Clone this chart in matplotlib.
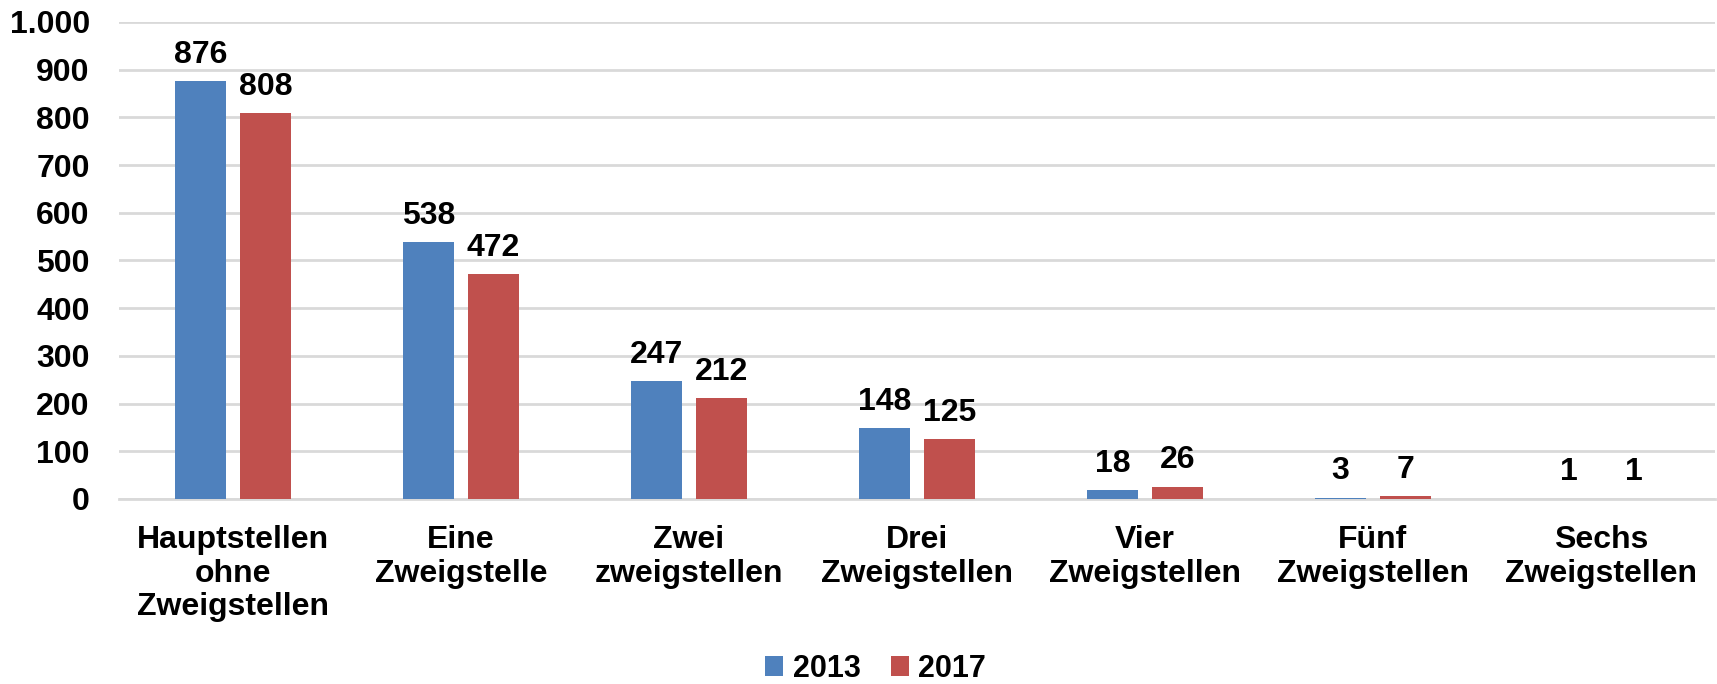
import matplotlib
matplotlib.use("Agg")
import matplotlib.pyplot as plt
import numpy as np

categories = ["Hauptstellen\nohne\nZweigstellen", "Eine\nZweigstelle", "Zwei\nzweigstellen",
              "Drei\nZweigstellen", "Vier\nZweigstellen", "Fünf\nZweigstellen", "Sechs\nZweigstellen"]
vals_2013 = [876, 538, 247, 148, 18, 3, 1]
vals_2017 = [808, 472, 212, 125, 26, 7, 1]
years = ["2013", "2017"]
yticks = [0, 100, 200, 300, 400, 500, 600, 700, 800, 900, 1000]
ytick_labels = ["0", "100", "200", "300", "400", "500", "600", "700", "800", "900", "1.000"]

plt.rcParams["font.family"] = ["Liberation Sans", "DejaVu Sans"]
plt.rcParams["font.weight"] = "bold"

fig = plt.figure(figsize=(17.17, 6.84), dpi=100)
ax = fig.add_axes([0.0693, 0.2705, 0.9295, 0.6975])

x = np.arange(len(categories))
w = 0.224
off = 0.1425
b1 = ax.bar(x - off, vals_2013, w, color="#4F81BD", label=years[0], zorder=3)
b2 = ax.bar(x + off, vals_2017, w, color="#C0504D", label=years[1], zorder=3)

for bars in (b1, b2):
    for r in bars:
        ax.annotate(str(int(r.get_height())), (r.get_x() + r.get_width() / 2, r.get_height()),
                    xytext=(0, 8), textcoords="offset points", ha="center", va="bottom",
                    fontsize=23, fontweight="bold")

ax.set_xlim(-0.5, len(categories) - 0.5)
ax.set_ylim(0, 1000)
ax.set_yticks(yticks)
ax.set_yticklabels(ytick_labels)
ax.set_xticks(x)
ax.set_xticklabels(categories, linespacing=1.15)
ax.tick_params(axis="y", length=0, pad=21, labelsize=23)
ax.tick_params(axis="x", length=0, pad=19, labelsize=23)
ax.grid(axis="y", color="#D9D9D9", linewidth=2, zorder=0)
for s in ["top", "right", "left"]:
    ax.spines[s].set_visible(False)
ax.spines["bottom"].set_color("#D9D9D9")
ax.spines["bottom"].set_linewidth(2)

fig.legend(loc="center", bbox_to_anchor=(0.51, 0.022), ncol=2, frameon=False,
           handlelength=0.6, handleheight=0.6, handletextpad=0.3,
           columnspacing=1.0, borderpad=0.1, prop={"weight": "bold", "size": 22})

fig.savefig("out.png", dpi=100)
